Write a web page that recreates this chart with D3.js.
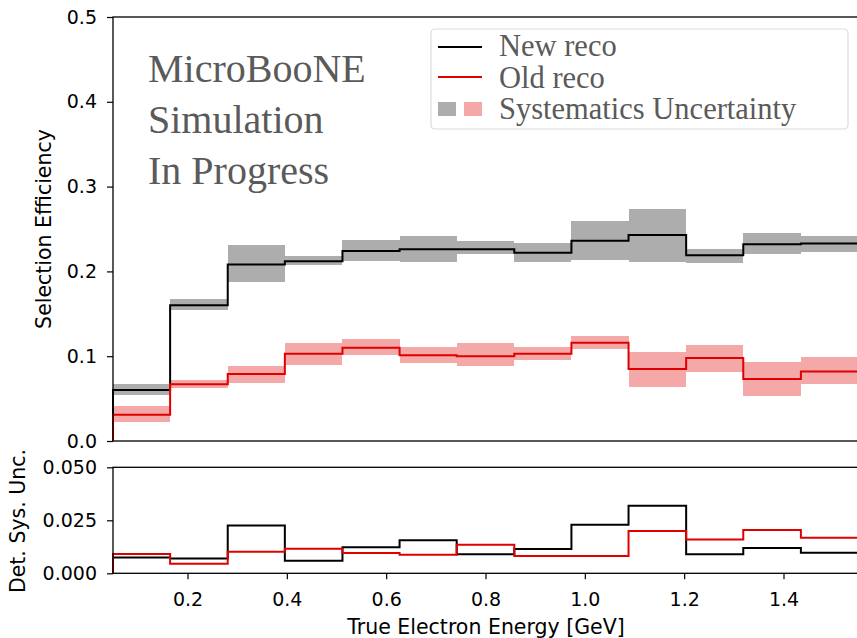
<!DOCTYPE html>
<head>
  <meta charset="utf-8">
  <script src="https://d3js.org/d3.v7.min.js"></script>
  <style>
    body {
      margin: 0;
      background: #fff;
    }

    .tick text {
      font-family: "DejaVu Sans", sans-serif;
      font-size: 19px;
      fill: #000;
    }

    .axis-label {
      font-family: "DejaVu Sans", sans-serif;
      font-size: 20.5px;
      fill: #000;
    }

    .serif {
      font-family: "Liberation Serif", serif;
      fill: #5a5a5a;
    }
  </style>
</head>

<body>
  <div id="chart"></div>

  <script>
    // bin edges in true electron energy [GeV]
    var edges = [0.05, 0.165, 0.281, 0.396, 0.512, 0.627, 0.742, 0.858, 0.973, 1.088, 1.204, 1.319, 1.435, 1.55];

    // selection efficiency, new reconstruction
    var newReco = [0.060, 0.160, 0.208, 0.212, 0.224, 0.226, 0.226, 0.222, 0.236, 0.243, 0.219, 0.232, 0.233];
    var newLo   = [0.054, 0.154, 0.187, 0.207, 0.212, 0.211, 0.220, 0.211, 0.213, 0.211, 0.210, 0.221, 0.223];
    var newHi   = [0.067, 0.168, 0.231, 0.218, 0.237, 0.242, 0.236, 0.234, 0.259, 0.274, 0.227, 0.245, 0.242];

    // selection efficiency, old reconstruction
    var oldReco = [0.031, 0.067, 0.079, 0.103, 0.110, 0.101, 0.100, 0.103, 0.116, 0.085, 0.098, 0.073, 0.082];
    var oldLo   = [0.022, 0.063, 0.068, 0.090, 0.102, 0.092, 0.088, 0.096, 0.109, 0.064, 0.081, 0.053, 0.067];
    var oldHi   = [0.041, 0.072, 0.088, 0.115, 0.120, 0.111, 0.115, 0.111, 0.124, 0.105, 0.113, 0.093, 0.099];

    // detector systematic uncertainty
    var newUnc = [0.0075, 0.0070, 0.0226, 0.0059, 0.0123, 0.0156, 0.0090, 0.0115, 0.0229, 0.0319, 0.0090, 0.0119, 0.0097];
    var oldUnc = [0.0091, 0.0045, 0.0102, 0.0116, 0.0096, 0.0088, 0.0135, 0.0082, 0.0082, 0.0200, 0.0159, 0.0204, 0.0168];

    var xTicks = [0.2, 0.4, 0.6, 0.8, 1.0, 1.2, 1.4];
    var topTicks = [0.0, 0.1, 0.2, 0.3, 0.4, 0.5];
    var botTicks = [0.000, 0.025, 0.050];

    var width = 857,
        height = 638;

    var svg = d3.select("#chart").append("svg")
      .attr("width", width)
      .attr("height", height);

    var x = d3.scaleLinear()
      .domain([0.05, 1.55])
      .range([113, 858]);

    var yTop = d3.scaleLinear()
      .domain([0, 0.5])
      .range([441, 17]);

    var yBot = d3.scaleLinear()
      .domain([0, 0.05])
      .range([573.3, 467.3]);

    function stepPoints(vals) {
      var pts = [[edges[0], 0]];
      vals.forEach(function(v, i) {
        pts.push([edges[i], v]);
        pts.push([edges[i + 1], v]);
      });
      pts.push([edges[edges.length - 1], 0]);
      return pts;
    }

    function drawBand(g, y, lo, hi, color) {
      g.selectAll(null)
          .data(lo)
        .enter().append("rect")
          .attr("x", function(d, i) { return x(edges[i]); })
          .attr("width", function(d, i) { return x(edges[i + 1]) - x(edges[i]); })
          .attr("y", function(d, i) { return y(hi[i]); })
          .attr("height", function(d, i) { return y(lo[i]) - y(hi[i]); })
          .attr("fill", color)
          .attr("shape-rendering", "crispEdges");
    }

    function drawStep(g, y, vals, color) {
      var line = d3.line()
        .x(function(d) { return x(d[0]); })
        .y(function(d) { return y(d[1]); });
      g.append("path")
        .attr("d", line(stepPoints(vals)))
        .attr("fill", "none")
        .attr("stroke", color)
        .attr("stroke-width", 2);
    }

    // ---- top panel ----
    var topPanel = svg.append("g");
    drawBand(topPanel, yTop, newLo, newHi, "#adadad");
    drawBand(topPanel, yTop, oldLo, oldHi, "#f5a8a8");
    drawStep(topPanel, yTop, newReco, "#000");
    drawStep(topPanel, yTop, oldReco, "#e00000");

    topPanel.append("g")
      .attr("transform", "translate(113,0)")
      .call(d3.axisLeft(yTop).tickValues(topTicks).tickFormat(d3.format(".1f")).tickSize(6).tickPadding(10));

    topPanel.append("rect")
      .attr("x", 113).attr("y", 17)
      .attr("width", 745).attr("height", 424)
      .attr("fill", "none")
      .attr("stroke", "#000")
      .attr("stroke-width", 1.3);

    topPanel.append("text")
      .attr("class", "axis-label")
      .attr("transform", "translate(51,229) rotate(-90)")
      .attr("text-anchor", "middle")
      .text("Selection Efficiency");

    // MicroBooNE label
    var tag = topPanel.append("text")
      .attr("class", "serif")
      .attr("font-size", 40);
    ["MicroBooNE", "Simulation", "In Progress"].forEach(function(s, i) {
      tag.append("tspan")
        .attr("x", 148)
        .attr("y", 82 + i * 51)
        .text(s);
    });

    // legend
    var legend = topPanel.append("g");
    legend.append("rect")
      .attr("x", 431).attr("y", 29)
      .attr("width", 417).attr("height", 100)
      .attr("rx", 4)
      .attr("fill", "#fff")
      .attr("fill-opacity", 0.8)
      .attr("stroke", "#dcdcdc")
      .attr("stroke-width", 1.2);
    legend.append("line")
      .attr("x1", 438).attr("x2", 482).attr("y1", 47).attr("y2", 47)
      .attr("stroke", "#000").attr("stroke-width", 2);
    legend.append("line")
      .attr("x1", 438).attr("x2", 482).attr("y1", 77).attr("y2", 77)
      .attr("stroke", "#e00000").attr("stroke-width", 2);
    legend.append("rect")
      .attr("x", 438).attr("y", 102).attr("width", 18).attr("height", 14)
      .attr("fill", "#adadad");
    legend.append("rect")
      .attr("x", 464).attr("y", 102).attr("width", 18).attr("height", 14)
      .attr("fill", "#f5a8a8");
    ["New reco", "Old reco", "Systematics Uncertainty"].forEach(function(s, i) {
      legend.append("text")
        .attr("class", "serif")
        .attr("font-size", 30.5)
        .attr("x", 499)
        .attr("y", 56 + i * 31.5)
        .text(s);
    });

    // ---- bottom panel ----
    var botPanel = svg.append("g");
    drawStep(botPanel, yBot, newUnc, "#000");
    drawStep(botPanel, yBot, oldUnc, "#e00000");

    botPanel.append("g")
      .attr("transform", "translate(113,0)")
      .call(d3.axisLeft(yBot).tickValues(botTicks).tickFormat(d3.format(".3f")).tickSize(6).tickPadding(10));

    botPanel.append("g")
      .attr("transform", "translate(0,573.3)")
      .call(d3.axisBottom(x).tickValues(xTicks).tickFormat(d3.format(".1f")).tickSize(6).tickPadding(13));

    botPanel.append("rect")
      .attr("x", 113).attr("y", 467.3)
      .attr("width", 745).attr("height", 106)
      .attr("fill", "none")
      .attr("stroke", "#000")
      .attr("stroke-width", 1.3);

    botPanel.append("text")
      .attr("class", "axis-label")
      .attr("transform", "translate(25,521) rotate(-90)")
      .attr("text-anchor", "middle")
      .text("Det. Sys. Unc.");

    botPanel.append("text")
      .attr("class", "axis-label")
      .attr("x", 486)
      .attr("y", 634)
      .attr("text-anchor", "middle")
      .text("True Electron Energy [GeV]");

    svg.selectAll(".domain").remove();
    svg.selectAll(".tick line").attr("stroke", "#000").attr("stroke-width", 1.2);
  </script>
</body>
